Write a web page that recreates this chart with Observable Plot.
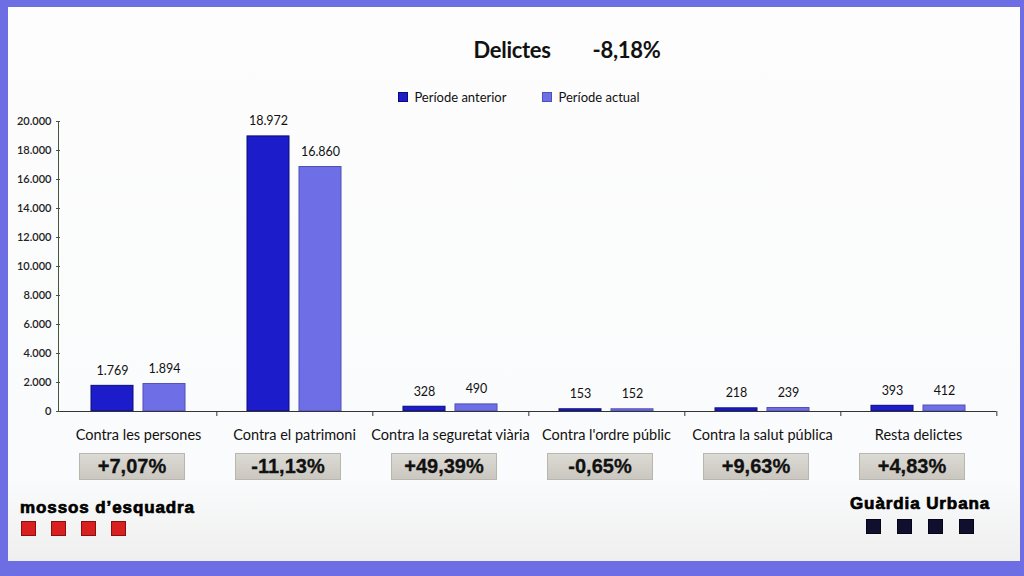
<!DOCTYPE html>
<html>
<head>
<meta charset="utf-8">
<script src="https://cdn.jsdelivr.net/npm/d3@7"></script>
<script src="https://cdn.jsdelivr.net/npm/@observablehq/plot@0.6"></script>
<style>
  html, body { margin: 0; padding: 0; }
  body { width: 1024px; height: 576px; background: #6e6ee4; position: relative; overflow: hidden; font-family: Lato, "Noto Sans", sans-serif; }
  #inner { position: absolute; left: 8px; top: 7px; width: 1012px; height: 554px; background: linear-gradient(#fdfdfd, #fafbfc 85%, #efefef); }
  #title { position: absolute; left: 0; width: 1024px; top: 36px; text-align: center; font-weight: 700; font-size: 22px; color: #111; letter-spacing: -0.3px; padding-left: 110px; box-sizing: border-box; }
  #title span + span { margin-left: 42px; }
  #legend { position: absolute; top: 89px; left: 0; width: 1024px; display: flex; justify-content: center; gap: 36px; font-size: 13px; color: #111; padding-left: 14px; box-sizing: border-box; }
  #legend .item { display: flex; align-items: center; gap: 6px; }
  #legend .sw { width: 8px; height: 8px; display: inline-block; }
  #chart { position: absolute; left: 0; top: 110px; }
  .pct { position: absolute; top: 453px; width: 106px; height: 27px; box-sizing: border-box; border: 1px solid #b8b6ad; background: linear-gradient(#dcdad4, #c9c7bf); font-family: "Liberation Sans", Arial, sans-serif; font-weight: 700; font-size: 20px; color: #111; display: flex; align-items: center; justify-content: center; -webkit-text-stroke: 0.3px #111; }
  .logo { position: absolute; font-family: "Liberation Sans", Arial, sans-serif; font-weight: 700; font-size: 17px; color: #000; letter-spacing: 0.9px; -webkit-text-stroke: 0.7px #000; }
  .sq { position: absolute; width: 15px; height: 15px; box-sizing: border-box; }
</style>
</head>
<body>
<div id="inner"></div>
<div id="title"><span>Delictes</span><span>-8,18%</span></div>
<div id="legend"></div>
<div id="chart"></div>
<div id="boxes"></div>
<div class="logo" style="left:20px; top:498px;">mossos d’esquadra</div>
<div class="logo" style="left:850px; top:494px;">Guàrdia Urbana</div>
<div id="squares"></div>
<script>
const categories = ["Contra les persones", "Contra el patrimoni", "Contra la seguretat viària", "Contra l'ordre públic", "Contra la salut pública", "Resta delictes"];
const series = ["Període anterior", "Període actual"];
const anterior = [1769, 18972, 328, 153, 218, 393];
const actual = [1894, 16860, 490, 152, 239, 412];
const changes = ["+7,07%", "-11,13%", "+49,39%", "-0,65%", "+9,63%", "+4,83%"];
const yTicks = [0, 2000, 4000, 6000, 8000, 10000, 12000, 14000, 16000, 18000, 20000];

const colors = {fill: ["#1c1ccb", "#6e6ee6"], stroke: ["#0c0c78", "#4f4fb8"]};

const locale = d3.formatLocale({decimal: ",", thousands: ".", grouping: [3], currency: ["", "€"]});
const fmt = locale.format(",");

const data = [];
categories.forEach((c, i) => {
  data.push({cat: c, series: series[0], value: anterior[i]});
  data.push({cat: c, series: series[1], value: actual[i]});
});

// legend
const legend = document.getElementById("legend");
series.forEach((s, i) => {
  const it = document.createElement("div");
  it.className = "item";
  it.innerHTML = `<span class="sw" style="background:${colors.fill[i]};border:1px solid ${colors.stroke[i]}"></span><span>${s}</span>`;
  legend.appendChild(it);
});

const W = 1024, H = 341, mL = 58, mR = 26, mT = 11, mB = 40;
const halfBand = (W - mL - mR) / categories.length / 2;

const chart = Plot.plot({
  width: W, height: H,
  marginTop: mT, marginBottom: mB, marginLeft: mL, marginRight: mR,
  style: {fontFamily: "Lato, sans-serif", color: "#222", background: "transparent", overflow: "visible"},
  fx: {domain: categories, padding: 0, label: null},
  x: {domain: series, paddingInner: 0.2, paddingOuter: 0.585, axis: null},
  y: {domain: [0, 20000], label: null},
  marks: [
    Plot.barY(data.filter(d => d.series === series[0]), {fx: "cat", x: "series", y: "value", fill: colors.fill[0], stroke: colors.stroke[0], strokeWidth: 1}),
    Plot.barY(data.filter(d => d.series === series[1]), {fx: "cat", x: "series", y: "value", fill: colors.fill[1], stroke: colors.stroke[1], strokeWidth: 1}),
    Plot.text(data, {fx: "cat", x: "series", y: "value", text: d => fmt(d.value), dy: -15, fontSize: 12.5, fill: "#111"}),
    Plot.ruleY([0], {stroke: "#333", strokeWidth: 1.2}),
    Plot.axisY({ticks: yTicks, tickFormat: fmt, tickSize: 4, tickPadding: 5, fontSize: 11, fontWeight: 600, label: null, stroke: "#445544"}),
    Plot.axisFx({anchor: "bottom", tickSize: 0, tickPadding: 18, fontSize: 14.5, label: null, fill: "#111"}),
    Plot.axisFx({anchor: "bottom", tickSize: 5, tickFormat: () => "", dx: halfBand, label: null, stroke: "#333"})
  ]
});
document.getElementById("chart").appendChild(chart);

// y axis line drawn from the plot's y scale
const yScale = chart.scale("y");
d3.select(chart).append("line")
  .attr("x1", mL + 0.5).attr("x2", mL + 0.5)
  .attr("y1", yScale.apply(0)).attr("y2", yScale.apply(20000))
  .attr("stroke", "#445544").attr("stroke-width", 1);

const fxScale = chart.scale("fx");
const bw = fxScale.bandwidth;

const boxes = document.getElementById("boxes");
categories.forEach((c, i) => {
  const cx = fxScale.apply(c) + bw / 2;
  const b = document.createElement("div");
  b.className = "pct";
  b.style.left = (cx - 53 - 6) + "px";
  b.textContent = changes[i];
  boxes.appendChild(b);
});

// logo squares
const sqs = document.getElementById("squares");
[21, 51, 81, 111].forEach(x => {
  const d = document.createElement("div");
  d.className = "sq";
  d.style.cssText = `left:${x}px;top:521px;background:#d82020;border:1px solid #8a1010;`;
  sqs.appendChild(d);
});
[866, 897, 928, 959].forEach(x => {
  const d = document.createElement("div");
  d.className = "sq";
  d.style.cssText = `left:${x}px;top:519px;background:#10102e;border:1px solid #05051a;`;
  sqs.appendChild(d);
});
</script>
</body>
</html>
